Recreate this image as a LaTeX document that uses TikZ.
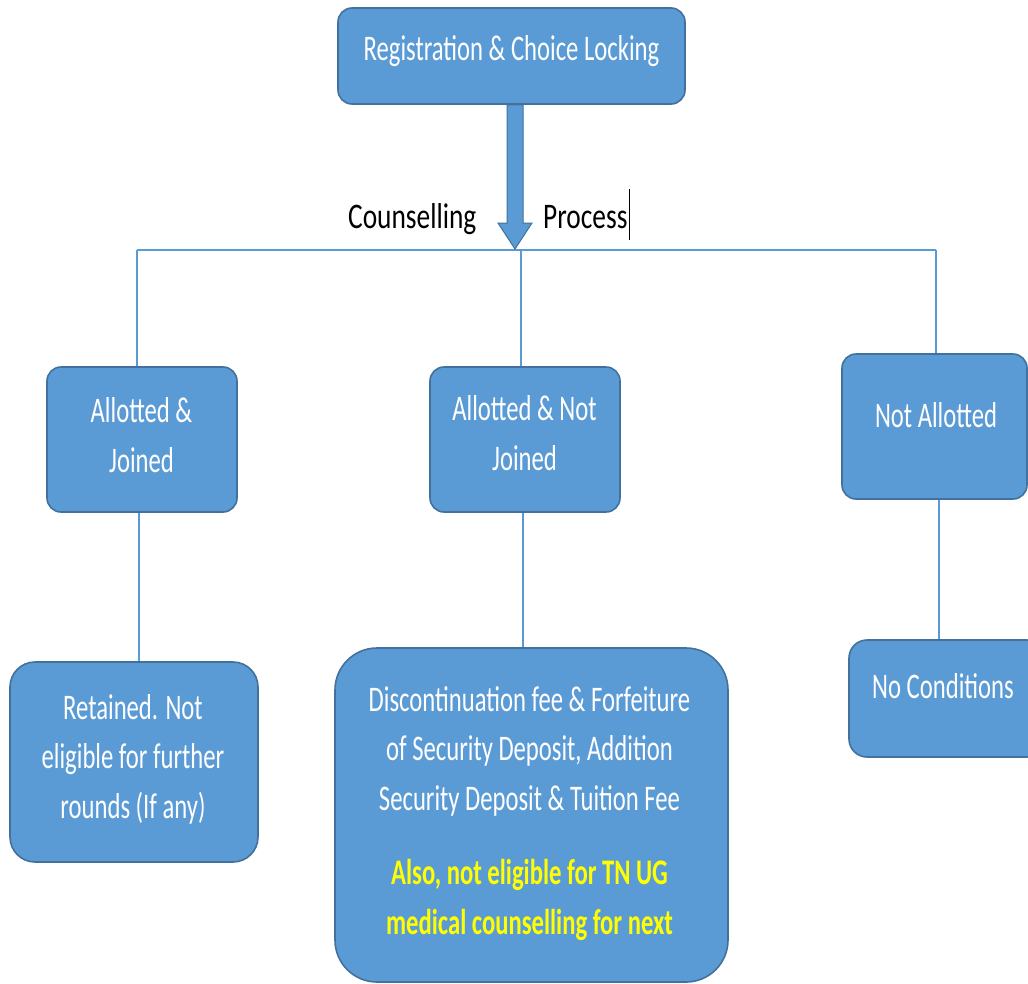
\documentclass[tikz,border=0pt]{standalone}
\usepackage{fontspec}
\setmainfont{Carlito}[FakeStretch=0.685]
\newfontfamily\cpfont{Carlito}[FakeStretch=0.76]
\usetikzlibrary{calc}
\definecolor{boxfill}{HTML}{5B9BD5}
\definecolor{boxline}{HTML}{41719C}
\definecolor{linkc}{HTML}{5B9BD5}
\definecolor{yel}{HTML}{FFFF00}
\begin{document}
\begin{tikzpicture}[x=1pt,y=-1pt,
  box/.style={draw=boxline, line width=1.6pt, fill=boxfill, rounded corners=#1, inner sep=0pt},
  box/.default=14pt,
  link/.style={draw=linkc, line width=2.3pt},
  blockarrow/.style={fill=boxfill, draw=boxline, line width=1pt, line join=miter},
  txt/.style={text=white, font=\fontsize{36}{49.3}\selectfont, align=center, inner sep=0pt, anchor=base},
  ytxt/.style={text=yel, font=\fontsize{36}{50}\selectfont\bfseries, align=center, inner sep=0pt, anchor=base},
  lbl/.style={text=black, font=\cpfont\fontsize{36}{40}\selectfont, inner sep=0pt, anchor=base west},
  cursorline/.style={draw=black, line width=1.3pt}
]
\useasboundingbox (0,0) rectangle (1028,983);
\fill[white] (0,0) rectangle (1028,983);
\clip (0,0) rectangle (1028,983);

% boxes
\node[box, minimum width=347pt, minimum height=96pt] (reg) at (511.5,56) {};
\node[box, minimum width=190pt, minimum height=145pt] (aj) at (142,439.5) {};
\node[box, minimum width=190pt, minimum height=145pt] (anj) at (525,439.5) {};
\node[box, minimum width=185pt, minimum height=145pt] (na) at (934.5,426.5) {};
\node[box=25pt, minimum width=248pt, minimum height=200pt] (ret) at (134,762) {};
\node[box=42pt, minimum width=393pt, minimum height=334pt] (disc) at (531.5,815) {};
\node[box=18pt, minimum width=196pt, minimum height=117pt] (noc) at (947,698.5) {};

% bus and connectors
\coordinate (busL) at (137,250);
\coordinate (busM) at (521,250);
\coordinate (busR) at (936,250);
\coordinate (tip) at (515,249);
\draw[link] (busL) -- (busR);
\draw[link] (busL) -- (busL |- aj.north);
\draw[link] (busM) -- (busM |- anj.north);
\draw[link] (busR) -- (busR |- na.north);
\draw[link] ($(aj.south)+(-3,0)$) coordinate (a1) -- (a1 |- ret.north);
\draw[link] ($(anj.south)+(-2,0)$) coordinate (a2) -- (a2 |- disc.north);
\draw[link] ($(na.south)+(4.5,0)$) coordinate (a3) -- (a3 |- noc.north);

% block arrow from top box to bus
\path[blockarrow] (tip) -- ++(-17,-26) -- ++(9,0) -- ($(tip |- reg.south)+(-8,0)$)
  -- ($(tip |- reg.south)+(8,0)$) -- ($(tip)+(8,-26)$) -- ++(9,0) -- cycle;

% texts (anchor = baseline of last line)
\node[txt] (treg) at (511.5,60) {Registration \& Choice Locking};
\node[txt] (taj) at (141.5,472) {Allotted \&\\Joined};
\node[txt] (tanj) at (524.5,470) {Allotted \& Not\\Joined};
\node[txt] (tna) at (936,427) {Not Allotted};
\node[txt] (tret) at (133,818) {Retained. Not\\eligible for further\\rounds (If any)};
\node[txt] (tdisc) at (529.5,810) {Discontinuation fee \& Forfeiture\\of Security Deposit, Addition\\Security Deposit \& Tuition Fee};
\node[ytxt] (tyel) at (529.5,934) {Also, not eligible for TN UG\\medical counselling for next};
\node[txt] (tnoc) at (943,698) {No Conditions};

\node[lbl] (tcoun) at (348,228) {Counselling};
\node[lbl] (tproc) at (543,228) {Process};
\draw[cursorline] ($(tproc.base east)+(2,-39)$) -- ++(0,51);
\end{tikzpicture}
\end{document}
